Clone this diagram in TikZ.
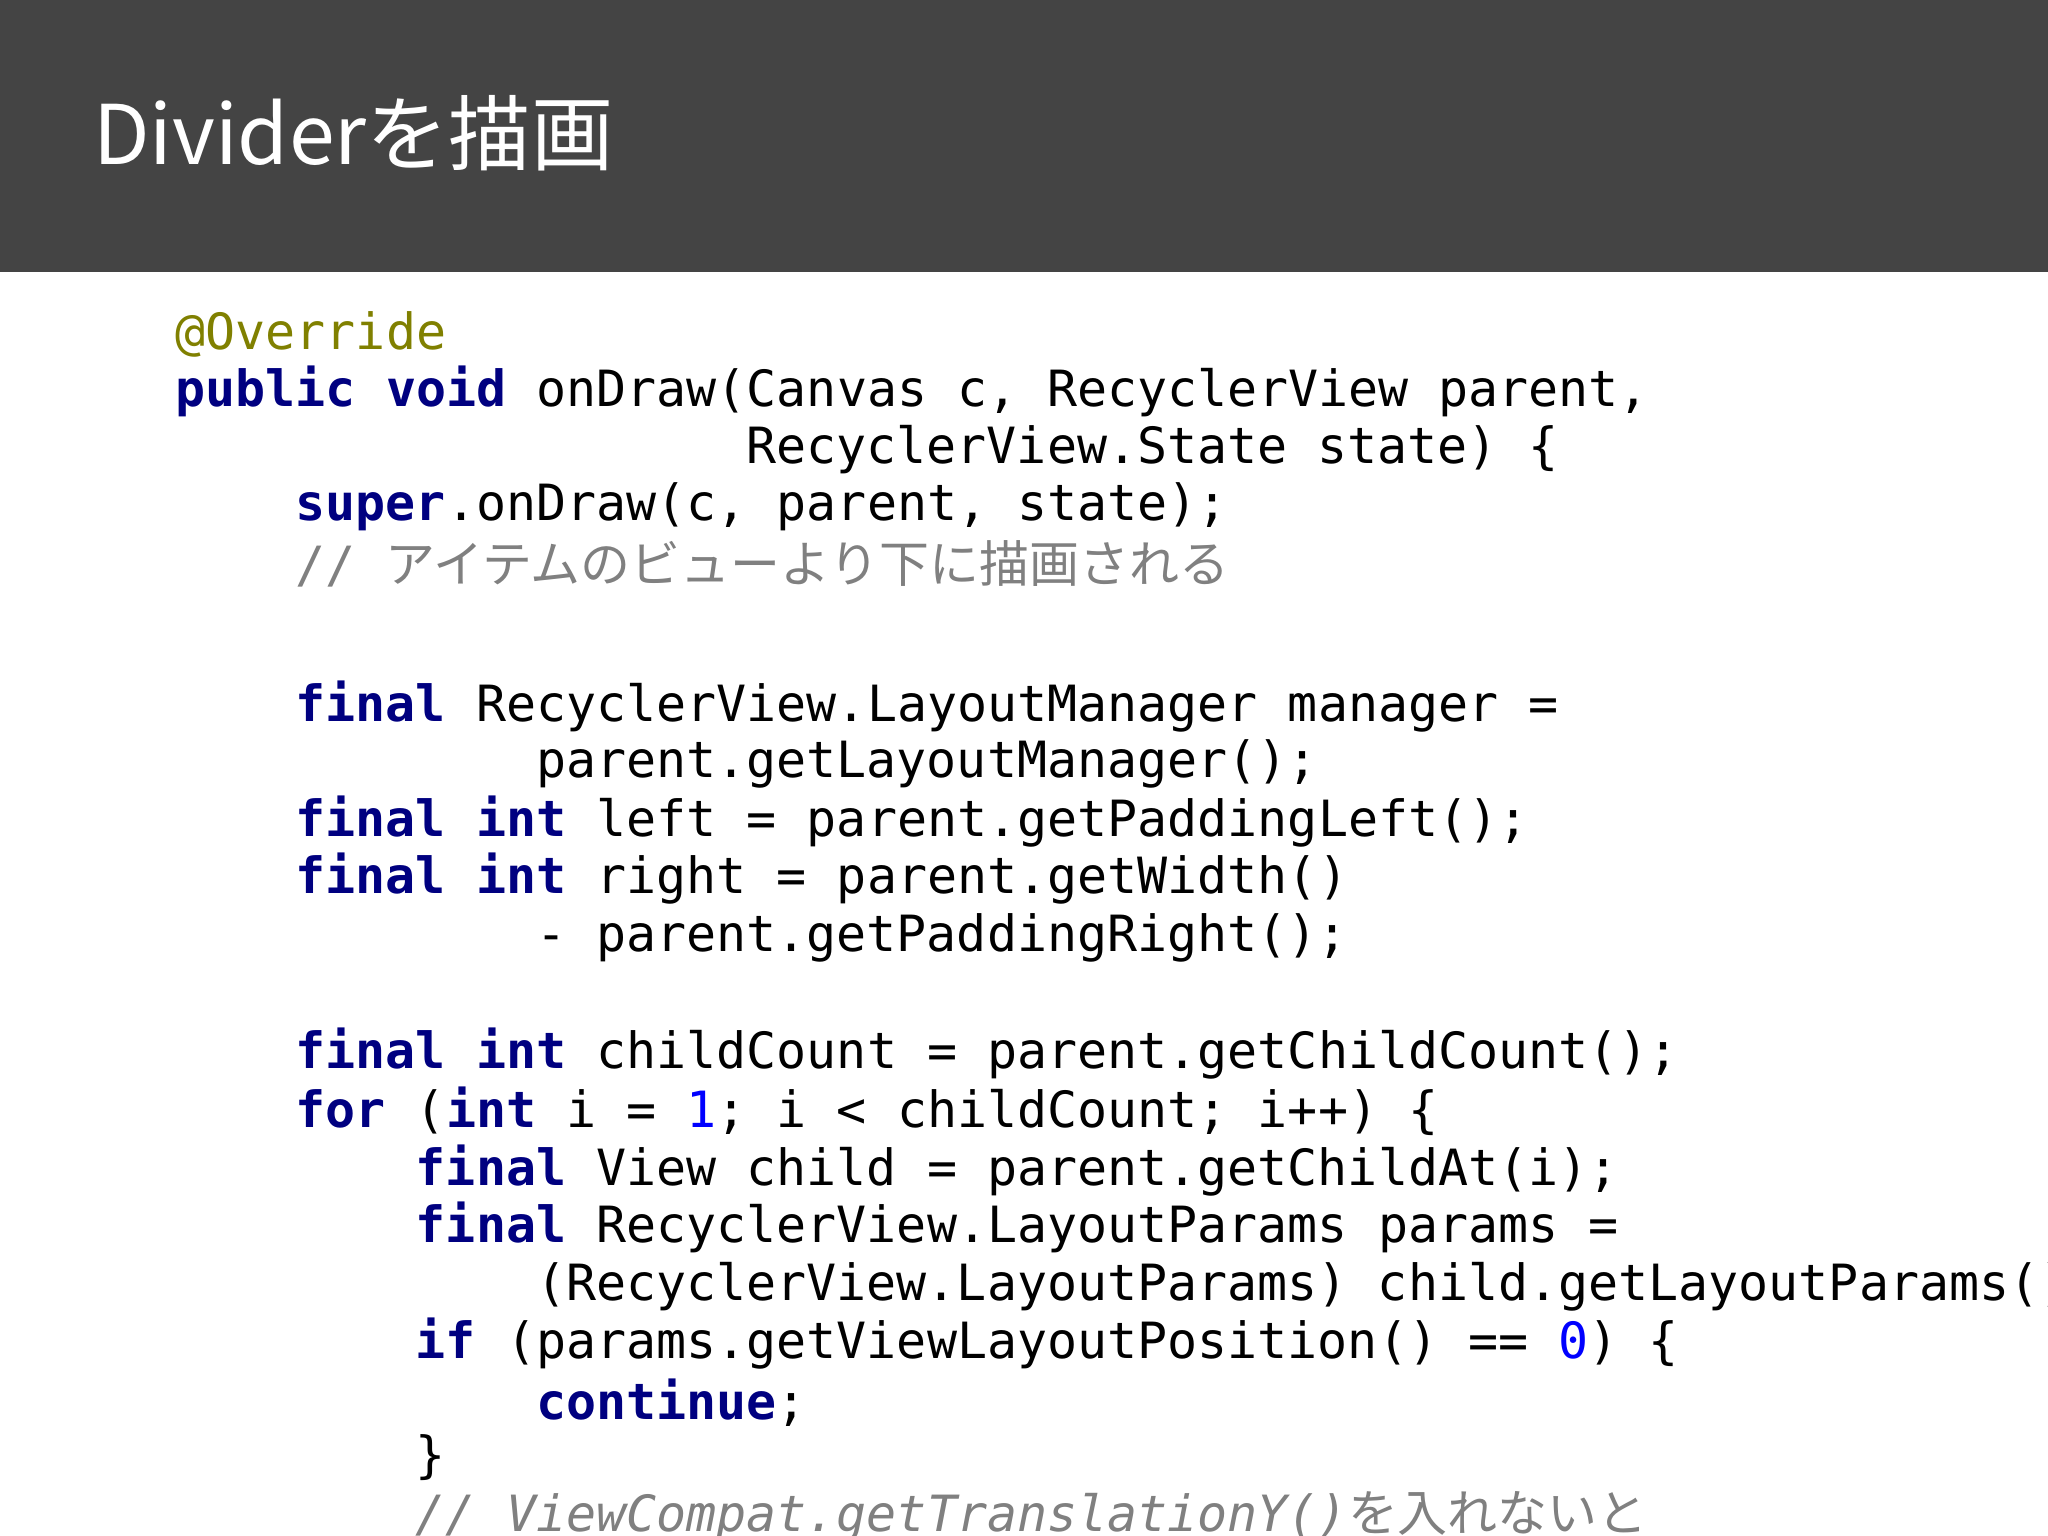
\documentclass[tikz,border=0pt]{standalone}
\usepackage{fontspec}
\setmonofont{DejaVu Sans Mono}
\newfontfamily\cjk{Noto Sans CJK JP}
\definecolor{hdr}{HTML}{444444}
\definecolor{kwc}{HTML}{000080}
\definecolor{annc}{HTML}{808000}
\definecolor{cmc}{HTML}{808080}
\definecolor{numc}{HTML}{0000FF}
\newcommand{\kw}[1]{\textbf{\color{kwc}#1}}
\newcommand{\nm}[1]{{\color{numc}#1}}
\tikzset{code/.style={anchor=west,inner sep=0pt,font=\fontsize{19.12}{22}\ttfamily}}
\begin{document}
\begin{tikzpicture}[x=0.5pt,y=0.5pt]
\useasboundingbox (0,0) rectangle (1568,-1176);
\clip (0,0) rectangle (1568,-1176);
\fill[white] (0,0) rectangle (1568,-1176);
\fill[hdr] (0,0) rectangle (1568,-208);
\node[anchor=west,inner sep=0pt,text=white,font=\cjk\fontsize{31.5}{36}\selectfont] (title) at (71,-102) {Dividerを描画};
\node[code] (l1) at (134,-256) {\color{annc}@Override};
\node[code] (l2) at (134,-300) {\kw{public} \kw{void} onDraw(Canvas c, RecyclerView parent,};
\node[code] (l3) at (571,-344) {RecyclerView.State state) \{};
\node[code] (l4) at (226,-388) {\kw{super}.onDraw(c, parent, state);};
\node[code] (l5) at (226,-432) {\color{cmc}// {\cjk アイテムのビューより下に描画される}};
\node[code] (l6) at (226,-541) {\kw{final} RecyclerView.LayoutManager manager =};
\node[code] (l7) at (410,-585) {parent.getLayoutManager();};
\node[code] (l8) at (226,-629) {\kw{final} \kw{int} left = parent.getPaddingLeft();};
\node[code] (l9) at (226,-673) {\kw{final} \kw{int} right = parent.getWidth()};
\node[code] (l10) at (410,-718) {- parent.getPaddingRight();};
\node[code] (l11) at (226,-807) {\kw{final} \kw{int} childCount = parent.getChildCount();};
\node[code] (l12) at (226,-851) {\kw{for} (\kw{int} i = \nm{1}; i < childCount; i++) \{};
\node[code] (l13) at (318,-896) {\kw{final} View child = parent.getChildAt(i);};
\node[code] (l14) at (318,-940) {\kw{final} RecyclerView.LayoutParams params =};
\node[code] (l15) at (410,-985) {(RecyclerView.LayoutParams) child.getLayoutParams();};
\node[code] (l16) at (318,-1029) {\kw{if} (params.getViewLayoutPosition() == \nm{0}) \{};
\node[code] (l17) at (410,-1074) {\kw{continue};};
\node[code] (l18) at (318,-1116) {\}};
\node[code] (l19) at (318,-1161) {\color{cmc}\itshape // ViewCompat.getTranslationY(){\cjk\upshape を入れないと}};
\end{tikzpicture}
\end{document}
